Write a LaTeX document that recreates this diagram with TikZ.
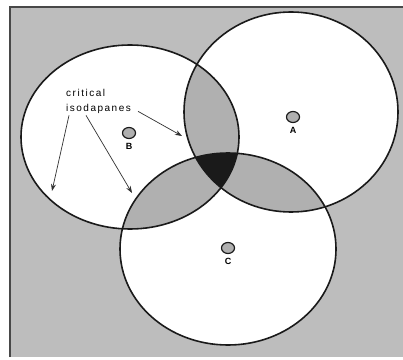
\documentclass[tikz,border=0pt]{standalone}
\usepackage{fontspec}
\setmainfont{Liberation Sans}
\newfontfamily\isofont[LetterSpace=15]{Liberation Sans}
\usepackage{tikz}
\usetikzlibrary{arrows.meta,positioning,shapes.geometric}
\definecolor{paper}{HTML}{BDBDBD}
\definecolor{lens}{HTML}{B0B0B0}
\definecolor{ink}{HTML}{1A1A1A}

\tikzset{
  zone/.style={draw=ink,line width=1.6pt},
  site/.style={ellipse,draw=ink,line width=1.2pt,fill=lens,minimum width=13pt,minimum height=11pt,inner sep=0pt},
  sitelabel/.style={font=\fontsize{9}{10}\selectfont\bfseries,inner sep=1pt},
  pointer/.style={-{Stealth[length=7pt,width=5pt]},ink!90,line width=0.7pt}
}

\begin{document}
\begin{tikzpicture}[x=1pt,y=1pt]
\useasboundingbox (0,0) rectangle (403,359);
\fill[paper] (10,2) rectangle (403,352);
\draw[ink!80,line width=1.3pt] (10,2) -- (10,352) -- (403,352);
% market areas
\fill[white] (130,222) ellipse [x radius=109pt,y radius=92pt];
\fill[white] (291,247) ellipse [x radius=107pt,y radius=100pt];
\fill[white] (228,110) ellipse [x radius=108pt,y radius=96pt];
\begin{scope}
\clip (291,247) ellipse [x radius=107pt,y radius=100pt];
\fill[lens] (130,222) ellipse [x radius=109pt,y radius=92pt];
\fill[lens] (228,110) ellipse [x radius=108pt,y radius=96pt];
\end{scope}
\begin{scope}
\clip (130,222) ellipse [x radius=109pt,y radius=92pt];
\fill[lens] (228,110) ellipse [x radius=108pt,y radius=96pt];
\end{scope}
\begin{scope}
\clip (291,247) ellipse [x radius=107pt,y radius=100pt];
\clip (130,222) ellipse [x radius=109pt,y radius=92pt];
\fill[ink] (228,110) ellipse [x radius=108pt,y radius=96pt];
\end{scope}
\draw[zone] (130,222) ellipse [x radius=109pt,y radius=92pt];
\draw[zone] (291,247) ellipse [x radius=107pt,y radius=100pt];
\draw[zone] (228,110) ellipse [x radius=108pt,y radius=96pt];
% sites
\node[site] (dotA) at (293,242) {};
\node[sitelabel,below=3pt of dotA] (labA) {A};
\node[site] (dotB) at (129,226) {};
\node[sitelabel,below=3pt of dotB] (labB) {B};
\node[site] (dotC) at (228,111) {};
\node[sitelabel,below=3pt of dotC] (labC) {C};
% isodapanes
\node[anchor=west,align=left,font=\isofont\fontsize{10}{15}\selectfont,inner sep=0pt] (iso) at (66,258) {critical\\isodapanes};
\coordinate (tipB) at (52,168);
\coordinate (tipC) at (132,166);
\coordinate (tipA) at (182,223);
\draw[pointer] ([xshift=3pt,yshift=-2pt]iso.south west) -- (tipB);
\draw[pointer] ([xshift=20pt,yshift=-2pt]iso.south west) -- (tipC);
\draw[pointer] ([xshift=7pt,yshift=2pt]iso.south east) -- (tipA);
\end{tikzpicture}
\end{document}
